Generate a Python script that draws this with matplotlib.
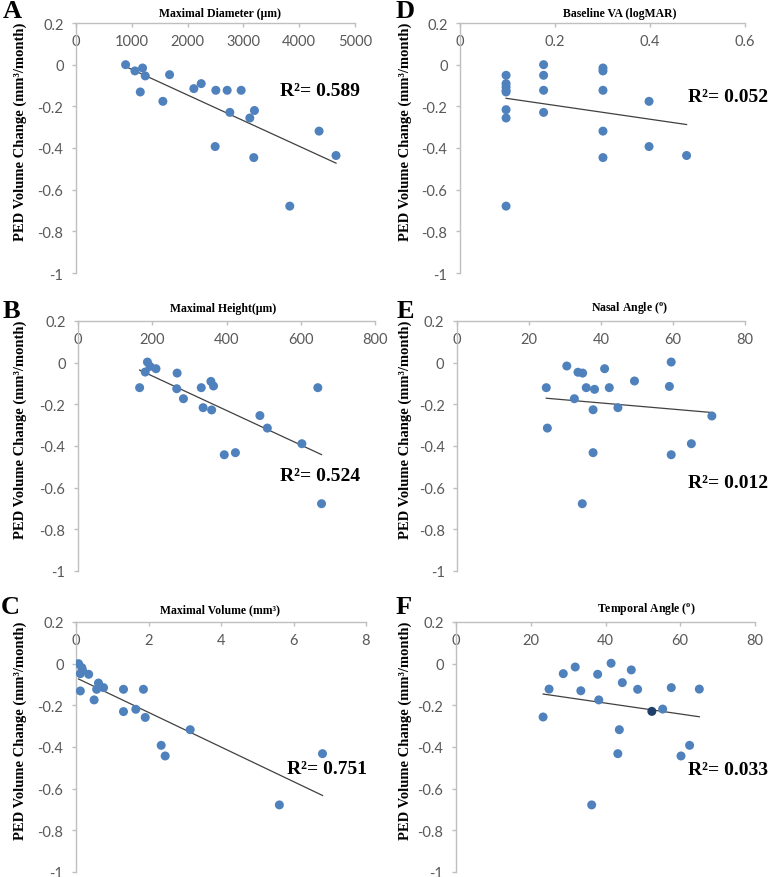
import numpy as np
import matplotlib
matplotlib.use("Agg")
import matplotlib.pyplot as plt
from matplotlib.ticker import FuncFormatter

plt.rcParams['axes.unicode_minus'] = False
plt.rcParams['mathtext.fontset'] = 'custom'
plt.rcParams['mathtext.rm'] = 'Liberation Serif:bold'
plt.rcParams['mathtext.bf'] = 'Liberation Serif:bold'

# Data (PED volume change vs. baseline parameters)
diam_x = [889, 1056, 1193, 1241, 1152, 1677, 1557, 2112, 2244, 2506,
          2709, 2960, 2757, 3115, 3198, 2494, 3186, 4356, 4660, 3831]
diam_y = [0.0, -0.030, -0.016, -0.054, -0.131, -0.048, -0.176, -0.115, -0.091, -0.123,
          -0.123, -0.123, -0.229, -0.256, -0.220, -0.393, -0.446, -0.319, -0.436, -0.679]

height_x = [187, 194, 181, 210, 166, 267, 266, 284, 332, 358,
            365, 337, 360, 490, 510, 603, 394, 424, 646, 656]
height_y = [0.003, -0.018, -0.045, -0.029, -0.120, -0.050, -0.125, -0.173, -0.120, -0.090,
            -0.112, -0.216, -0.227, -0.254, -0.314, -0.389, -0.442, -0.432, -0.120, -0.677]

volume_x = [0.07, 0.16, 0.18, 0.12, 0.35, 0.12, 0.50, 0.62, 0.57, 0.76,
            1.31, 1.31, 1.65, 1.86, 1.91, 3.15, 2.35, 2.46, 5.61, 6.80]
volume_y = [0.0, -0.019, -0.032, -0.048, -0.051, -0.131, -0.174, -0.093, -0.123, -0.115,
            -0.123, -0.230, -0.219, -0.123, -0.258, -0.317, -0.392, -0.443, -0.678, -0.432]

va_x = [0.097, 0.097, 0.097, 0.097, 0.097, 0.097, 0.097, 0.097,
        0.176, 0.176, 0.176, 0.176,
        0.301, 0.301, 0.301, 0.301, 0.301,
        0.398, 0.398, 0.477]
va_y = [-0.051, -0.091, -0.107, -0.123, -0.131, -0.216, -0.256, -0.679,
        0.0, -0.051, -0.123, -0.229,
        -0.016, -0.030, -0.123, -0.319, -0.446,
        -0.176, -0.393, -0.436]

nasal_x = [24.8, 25.1, 30.5, 32.6, 33.6, 34.9, 35.9, 38.2, 37.8, 37.8,
           34.8, 41.0, 42.3, 44.7, 49.3, 59.5, 59.0, 59.5, 65.1, 70.8]
nasal_y = [-0.120, -0.314, -0.016, -0.173, -0.046, -0.050, -0.120, -0.128, -0.226, -0.432,
           -0.677, -0.029, -0.120, -0.216, -0.088, 0.003, -0.114, -0.442, -0.389, -0.256]

temporal_x = [23.3, 24.9, 28.7, 31.9, 33.4, 37.9, 38.2, 41.5, 44.5, 46.9,
              48.6, 43.7, 43.3, 36.3, 52.4, 55.3, 57.6, 60.2, 62.5, 65.1]
temporal_y = [-0.256, -0.122, -0.048, -0.016, -0.130, -0.051, -0.174, 0.002, -0.091, -0.030,
              -0.123, -0.317, -0.432, -0.678, -0.229, -0.218, -0.115, -0.443, -0.392, -0.122]

r2_text = ['0.589', '0.524', '0.751', '0.052', '0.012', '0.033']
letters = ['A', 'B', 'C', 'D', 'E', 'F']
titles = ['Maximal Diameter (\u03bcm)', 'Maximal Height(\u03bcm)', 'Maximal Volume (mm\u00b3)',
          'Baseline VA (logMAR)', r'Nasal Angle ($^{\mathrm{o}}$)', r'Temporal Angle ($^{\mathrm{o}}$)']
xlims = [(0, 5000), (0, 800), (0, 8), (0, 0.6), (0, 80), (0, 80)]
xsteps = [1000, 200, 2, 0.2, 20, 20]

xs = [diam_x, height_x, volume_x, va_x, nasal_x, temporal_x]
ys = [diam_y, height_y, volume_y, va_y, nasal_y, temporal_y]

# layout in pixels: left, right, top, bottom
W, H = 768, 878
boxes = [(76, 355, 24, 274), (78, 375, 322, 572), (76, 366, 623, 873),
         (460, 745, 24, 274), (457, 745, 322, 572), (456, 755, 623, 873)]
r2_pos = [(3652, -0.123), (543, -0.544), (5.83, -0.502),
          (0.48, -0.155), (64.2, -0.573), (62.1, -0.507)]
title_xpx = [220, 223, 220, 620, 630, 646]
title_ypx = [14, 309, 610, 14, 309, 610]
letter_px = [(3, 0), (3, 300), (1, 596), (396, 0), (397, 300), (396, 596)]
ylabel_xpx = [27, 27, 27, 412, 412, 412]

blue = '#4F81BD'
serif = 'Liberation Serif'
tick_fonts = ['Liberation Sans Narrow', 'Lato']


def fmt(v, p):
    return '%g' % (round(v, 6) + 0.0)


fig = plt.figure(figsize=(W / 100, H / 100), dpi=100)

for i in range(6):
    l, r, t, b = boxes[i]
    ax = fig.add_axes([l / W, 1 - b / H, (r - l) / W, (b - t) / H])
    x = np.array(xs[i])
    y = np.array(ys[i])

    colors = [blue] * len(x)
    if i == 5:
        colors[14] = '#1F3F6A'
    ax.scatter(x, y, s=42, color=colors, edgecolors='none', zorder=3)

    # linear trend line
    k, c = np.polyfit(x, y, 1)
    xx = np.array([x.min(), x.max()])
    ax.plot(xx, k * xx + c, color='#404040', lw=0.9, zorder=2)

    ax.set_xlim(*xlims[i])
    ax.set_ylim(-1, 0.2)
    ax.set_xticks(np.arange(xlims[i][0], xlims[i][1] + xsteps[i] / 2, xsteps[i]))
    ax.set_yticks(np.arange(-1, 0.21, 0.2))
    ax.xaxis.set_major_formatter(FuncFormatter(fmt))
    ax.yaxis.set_major_formatter(FuncFormatter(fmt))

    ax.spines['right'].set_visible(False)
    ax.spines['top'].set_visible(False)
    ax.spines['bottom'].set_position(('data', 0.2))
    for s in ['left', 'bottom']:
        ax.spines[s].set_color('#BFBFBF')
        ax.spines[s].set_linewidth(1.0)
    ax.tick_params(axis='both', colors='#BFBFBF', length=3, width=1.0,
                   labelcolor='#595959', labelsize=10.5)
    ax.tick_params(axis='x', pad=5)
    ax.tick_params(axis='y', pad=6)
    for lab in ax.get_xticklabels() + ax.get_yticklabels():
        lab.set_fontfamily(tick_fonts)

    ax.set_ylabel('PED Volume Change (mm\u00b3/month)', fontfamily=serif,
                  fontweight='bold', fontsize=10.5)
    ax.yaxis.set_label_coords((ylabel_xpx[i] - l) / (r - l), 0.57)

    fig.text(title_xpx[i] / W, 1 - title_ypx[i] / H, titles[i], ha='center', va='center',
             fontfamily=serif, fontweight='bold', fontsize=8.5)
    fig.text(letter_px[i][0] / W, 1 - letter_px[i][1] / H, letters[i], ha='left', va='top',
             fontfamily=serif, fontweight='bold', fontsize=19)

    ax.text(r2_pos[i][0], r2_pos[i][1], 'R\u00b2= ' + r2_text[i], ha='left', va='center',
            fontfamily=serif, fontweight='bold', fontsize=14, clip_on=False)

fig.savefig('out.png', dpi=100)
